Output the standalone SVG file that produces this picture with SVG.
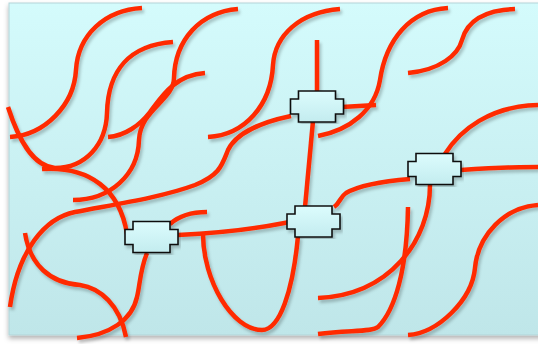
<svg xmlns="http://www.w3.org/2000/svg" xmlns:xlink="http://www.w3.org/1999/xlink" width="538" height="344" viewBox="0 0 538 344">
<defs>
  <linearGradient id="bg" x1="0" y1="0" x2="0" y2="1">
    <stop offset="0" stop-color="#d4fbfc"/>
    <stop offset="1" stop-color="#bfe6e9"/>
  </linearGradient>
  <linearGradient id="nodeFill" x1="0" y1="0" x2="0" y2="1">
    <stop offset="0" stop-color="#dcfcfd"/>
    <stop offset="1" stop-color="#c3ecef"/>
  </linearGradient>
  <filter id="bgShadow" x="-5%" y="-5%" width="110%" height="115%">
    <feDropShadow dx="0" dy="3" stdDeviation="2.5" flood-color="#000" flood-opacity="0.3"/>
  </filter>
  <filter id="wireShadow" x="-5%" y="-5%" width="110%" height="110%">
    <feDropShadow dx="2" dy="3" stdDeviation="1.5" flood-color="#000" flood-opacity="0.22"/>
  </filter>
  <path id="nodeShape" d="M8,0 H45 V8 H53 V23 H45 V31 H8 V23 H0 V8 H8 Z"/>
</defs>
<style>
  .wire { fill: none; stroke: #ff2a00; stroke-width: 4.5; stroke-linecap: butt; stroke-linejoin: round; }
  .node { fill: url(#nodeFill); stroke: #111; stroke-width: 1.6; filter: url(#wireShadow); }
</style>

<rect x="9" y="3" width="535" height="332" fill="url(#bg)" stroke="#b3d4d7" stroke-width="1" filter="url(#bgShadow)"/>

<g id="connectors" filter="url(#wireShadow)">
  <path class="wire" d="M8,107 C18,138 32,166 55,168 C85,168 106,145 107,113 C108,70 130,45 173,42"/>
  <path class="wire" d="M142,8 C105,10 78,35 76,70 C74,105 45,135 10,137"/>
  <path class="wire" d="M238,9 C200,12 175,40 174,78 C174,100 140,110 139,140 C138,175 110,200 73,200"/>
  <path class="wire" d="M108,137 C125,136 140,125 150,112 C162,96 175,75 205,73"/>
  <path class="wire" d="M340,9 C300,12 275,35 273,65 C271,105 245,135 208,137"/>
  <path class="wire" d="M42,169 C90,166 120,190 127,234"/>
  <path class="wire" d="M291,116 C262,122 236,133 228,150 C222,165 220,175 195,185 C160,198 110,205 75,212 C45,218 18,250 10,307"/>
  <path class="wire" d="M25,233 C30,265 50,283 80,285 C100,288 120,305 126,337"/>
  <path class="wire" d="M147,253 C140,270 140,285 137,297 C132,320 110,335 77,338"/>
  <path class="wire" d="M170,224 C180,215 192,212 207,212"/>
  <path class="wire" d="M178,235 C220,233 260,228 290,222"/>
  <path class="wire" d="M203,234 C203,280 232,330 262,330 C280,330 293,290 298,236"/>
  <path class="wire" d="M317,40 L317,92"/>
  <path class="wire" d="M313,121 L305,207"/>
  <path class="wire" d="M342,107 L376,105"/>
  <path class="wire" d="M318,136 C350,130 375,110 380,80 C386,40 410,10 448,8"/>
  <path class="wire" d="M408,73 C440,70 458,55 462,40 C468,18 490,10 515,9"/>
  <path class="wire" d="M334,207 C340,203 340,197 346,193 C360,185 385,181 410,179"/>
  <path class="wire" d="M430,185 C430,240 390,295 318,298"/>
  <path class="wire" d="M408,207 C407,270 395,310 378,327 C372,332 350,330 318,334"/>
  <path class="wire" d="M538,205 C505,207 478,235 475,268 C472,300 438,333 408,335"/>
  <path class="wire" d="M461,170 C490,168 515,167 538,167"/>
  <path class="wire" d="M445,154 C460,130 490,106 538,105"/>
</g>

<g id="node1" transform="translate(290.5,91)"><use class="node" href="#nodeShape" xlink:href="#nodeShape"/></g>
<g id="node2" transform="translate(287,206)"><use class="node" href="#nodeShape" xlink:href="#nodeShape"/></g>
<g id="node3" transform="translate(125,221.5)"><use class="node" href="#nodeShape" xlink:href="#nodeShape"/></g>
<g id="node4" transform="translate(408,153.5)"><use class="node" href="#nodeShape" xlink:href="#nodeShape"/></g>
</svg>
